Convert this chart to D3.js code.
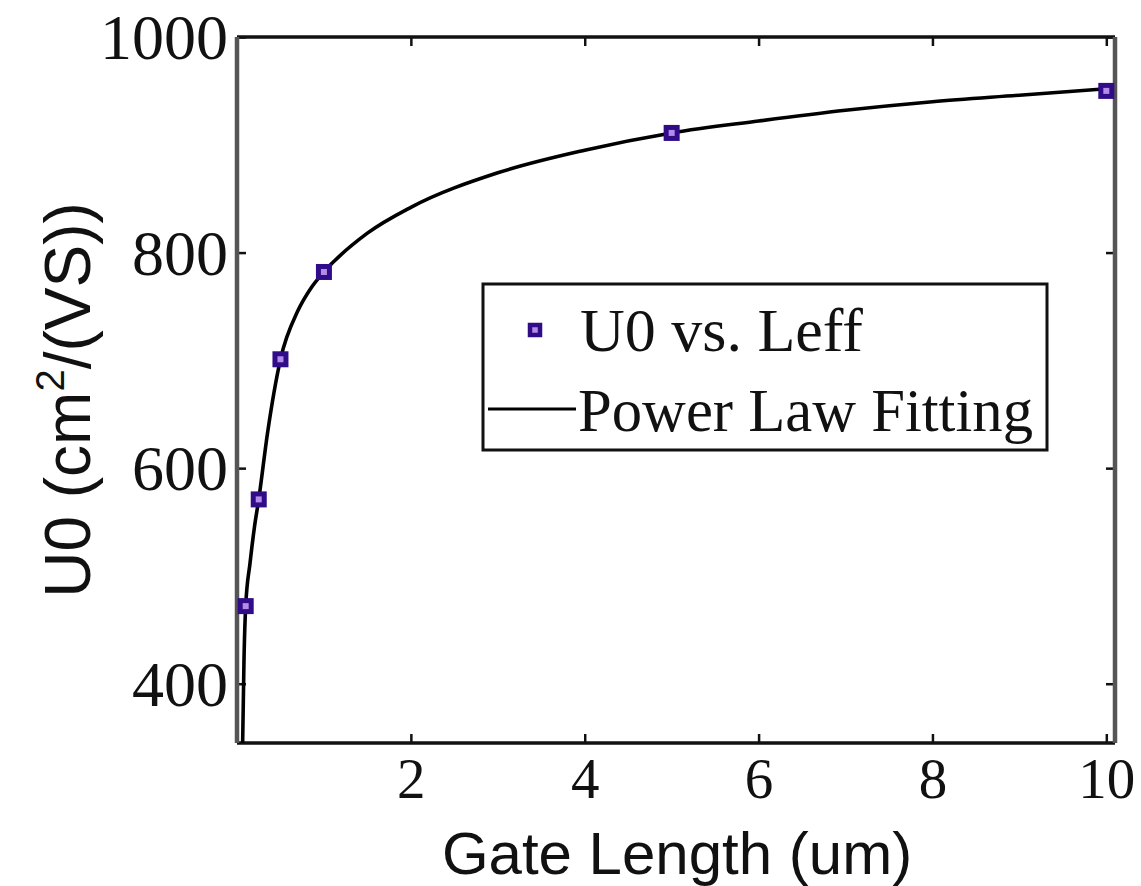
<!DOCTYPE html>
<html>
<head>
<meta charset="utf-8">
<script src="https://cdn.jsdelivr.net/npm/d3@7"></script>
<style>
  html, body { margin: 0; padding: 0; background: #fff; }
  svg { display: block; }
</style>
</head>
<body>
<svg id="chart" width="1141" height="886"></svg>
<script>
// ---- data ----
const gateLength = [0.1, 0.25, 0.5, 1, 5, 10];
const mobility   = [472, 571, 701, 782, 911, 950];

const fitX = [0.065, 0.08, 0.1, 0.15, 0.2, 0.25, 0.35, 0.5, 0.7, 0.85, 1, 1.5, 2, 3, 4, 5, 6, 7, 8, 9, 10];
const fitY = [345, 420, 472, 512, 545, 571, 632, 701, 746, 767, 782, 818, 842, 874, 895, 911, 922, 932, 940, 946, 952];

const xTicks = [2, 4, 6, 8, 10];
const yTicks = [400, 600, 800, 1000];

const seriesNames = ["U0 vs. Leff", "Power Law Fitting"];
const xTitle = "Gate Length (um)";

// ---- layout ----
const L = 237, R = 1115, T = 37, B = 743;
const svg = d3.select("#chart");

const x = d3.scaleLinear().domain([0, 10.1]).range([L, R]);
const y = d3.scaleLinear().domain([345, 1000]).range([B, T]);

const serif = "'Liberation Serif', 'Times New Roman', serif";
const sans = "'Liberation Sans', Arial, sans-serif";

// clip
svg.append("defs").append("clipPath").attr("id", "plotclip")
  .append("rect").attr("x", L).attr("y", T).attr("width", R - L).attr("height", B - T);

// ticks (inside, mirrored)
const tickLen = 9;
const gx = svg.append("g").attr("transform", `translate(0,${B})`)
  .call(d3.axisBottom(x).tickValues(xTicks).tickSize(-tickLen).tickPadding(15).tickFormat(d3.format("d")));
const gxt = svg.append("g").attr("transform", `translate(0,${T})`)
  .call(d3.axisTop(x).tickValues(xTicks).tickSize(-tickLen).tickFormat(""));
const gy = svg.append("g").attr("transform", `translate(${L},0)`)
  .call(d3.axisLeft(y).tickValues(yTicks).tickSize(-tickLen).tickPadding(9).tickFormat(d3.format("d")));
const gyr = svg.append("g").attr("transform", `translate(${R},0)`)
  .call(d3.axisRight(y).tickValues(yTicks).tickSize(-tickLen).tickFormat(""));

[gx, gxt, gy, gyr].forEach(g => {
  g.select(".domain").remove();
  g.selectAll(".tick line").attr("stroke", "#111").attr("stroke-width", 2.5);
});
gx.selectAll(".tick text").attr("font-family", serif).attr("font-size", 57).attr("fill", "#111");
gy.selectAll(".tick text").attr("font-family", serif).attr("font-size", 64).attr("fill", "#111")
  .attr("dy", "0.34em");

// box
svg.append("line").attr("x1", L).attr("x2", R).attr("y1", T).attr("y2", T).attr("stroke", "#111").attr("stroke-width", 3.5);
svg.append("line").attr("x1", L).attr("x2", R).attr("y1", B).attr("y2", B).attr("stroke", "#111").attr("stroke-width", 3.5);
svg.append("line").attr("x1", L).attr("x2", L).attr("y1", T).attr("y2", B).attr("stroke", "#555").attr("stroke-width", 4.5);
svg.append("line").attr("x1", R).attr("x2", R).attr("y1", T).attr("y2", B).attr("stroke", "#555").attr("stroke-width", 4.5);

// fit line
const line = d3.line().x((d, i) => x(fitX[i])).y(d => y(d)).curve(d3.curveMonotoneX);
svg.append("path").datum(fitY).attr("clip-path", "url(#plotclip)")
  .attr("d", line).attr("fill", "none").attr("stroke", "#000").attr("stroke-width", 3.6);

// markers
const ms = 11;
svg.append("g").selectAll("rect").data(mobility).join("rect")
  .attr("x", (d, i) => x(gateLength[i]) - ms / 2)
  .attr("y", d => y(d) - ms / 2)
  .attr("width", ms).attr("height", ms)
  .attr("fill", "#b58be8").attr("stroke", "#300c88").attr("stroke-width", 5);

// legend
const lg = svg.append("g");
lg.append("rect").attr("x", 483).attr("y", 284).attr("width", 564).attr("height", 166)
  .attr("fill", "#fff").attr("stroke", "#111").attr("stroke-width", 3);
lg.append("rect").attr("x", 530).attr("y", 325).attr("width", 10).attr("height", 10)
  .attr("fill", "#b58be8").attr("stroke", "#300c88").attr("stroke-width", 4.5);
lg.append("text").attr("x", 580).attr("y", 351).attr("font-family", serif).attr("font-size", 62)
  .attr("fill", "#111").text(seriesNames[0]);
lg.append("line").attr("x1", 488).attr("x2", 576).attr("y1", 409).attr("y2", 409)
  .attr("stroke", "#000").attr("stroke-width", 3.2);
lg.append("text").attr("x", 578).attr("y", 431).attr("font-family", serif).attr("font-size", 62)
  .attr("textLength", 455).attr("lengthAdjust", "spacingAndGlyphs")
  .attr("fill", "#111").text(seriesNames[1]);

// axis titles
svg.append("text").attr("x", 677).attr("y", 874).attr("text-anchor", "middle")
  .attr("font-family", sans).attr("font-size", 60).attr("fill", "#111").text(xTitle);

const yt = svg.append("text").attr("transform", "translate(90,400) rotate(-90)")
  .attr("text-anchor", "middle").attr("font-family", sans).attr("font-size", 64).attr("fill", "#111");
yt.append("tspan").text("U0 (cm");
yt.append("tspan").attr("font-size", 40).attr("dy", -26).text("2");
yt.append("tspan").attr("dy", 26).text("/(VS))");
</script>
</body>
</html>
